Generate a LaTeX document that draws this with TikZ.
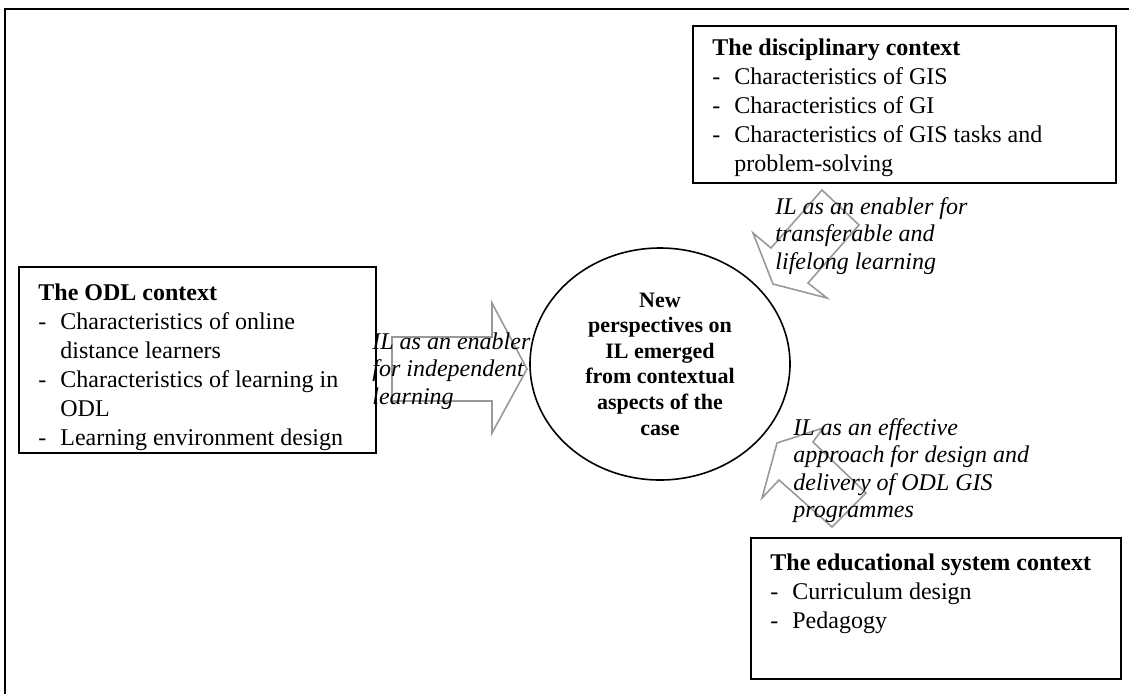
\documentclass[tikz,border=0pt]{standalone}
\usepackage{fontspec}
\setmainfont{Liberation Serif}
\usetikzlibrary{positioning,shapes.geometric}

\newcommand{\itm}{\makebox[11pt][l]{-}}
\newcommand{\cnt}{\hspace*{11pt}}

\begin{document}
\begin{tikzpicture}[x=0.5pt, y=-0.5pt,
    ctxbox/.style = {draw, line width=0.9pt, inner sep=0pt, anchor=north west},
    ctxtext/.style = {inner sep=0pt, anchor=north west, align=left, font=\fontsize{12}{14.5}\selectfont},
    roletext/.style = {inner sep=0pt, anchor=north west, align=left, font=\fontsize{12}{13.75}\selectfont\itshape},
    bigarrow/.style = {draw=black!40, line width=0.8pt, line join=miter}
    ]
    \clip (0,0) rectangle (1129,693);
    \draw[line width=1pt] (5,9) rectangle (1200,760);

    % block arrows
    \draw[bigarrow] (392,337) -- (492,337) -- (492,303) -- (527,369) -- (492,433) -- (492,401) -- (392,401) -- cycle;
    \draw[bigarrow] (822,190) -- (859,225) -- (808,283) -- (827,298) -- (773,284) -- (753,233) -- (771,248) -- cycle;
    \draw[bigarrow] (832,527) -- (779,480) -- (762,498) -- (777,443) -- (823,428) -- (813,442) -- (866,493) -- cycle;

    % context boxes
    \node[ctxbox, minimum width=211.5pt, minimum height=78.5pt] (disc) at (692,25) {};
    \node[ctxtext] (disctext) at (712,38) {\textbf{The disciplinary context}\\
        \itm Characteristics of GIS\\
        \itm Characteristics of GI\\
        \itm Characteristics of GIS tasks and\\
        \cnt problem-solving};

    \node[ctxbox, minimum width=178.5pt, minimum height=93pt] (odl) at (18,266) {};
    \node[ctxtext] (odltext) at (38,283) {\textbf{The ODL context}\\
        \itm Characteristics of online\\
        \cnt distance learners\\
        \itm Characteristics of learning in\\
        \cnt ODL\\
        \itm Learning environment design};

    \node[ctxbox, minimum width=185pt, minimum height=70.5pt] (edu) at (750,537) {};
    \node[ctxtext] (edutext) at (770,553) {\textbf{The educational system context}\\
        \itm Curriculum design\\
        \itm Pedagogy};

    % centre
    \node[ellipse, draw, line width=0.8pt, inner sep=0pt, minimum width=130pt, minimum height=116pt,
        align=center, font=\fontsize{11}{12.8}\selectfont\bfseries] (core) at (660,364)
        {New\\perspectives on\\IL emerged\\from contextual\\aspects of the\\case};

    % arrow labels
    \node[roletext] (indep) at (372,332) {IL as an enabler\\for independent\\learning};
    \node[roletext] (transfer) at (775,197) {IL as an enabler for\\transferable and\\lifelong learning};
    \node[roletext] (deliver) at (793,418) {IL as an effective\\approach for design and\\delivery of ODL GIS\\programmes};
\end{tikzpicture}
\end{document}
